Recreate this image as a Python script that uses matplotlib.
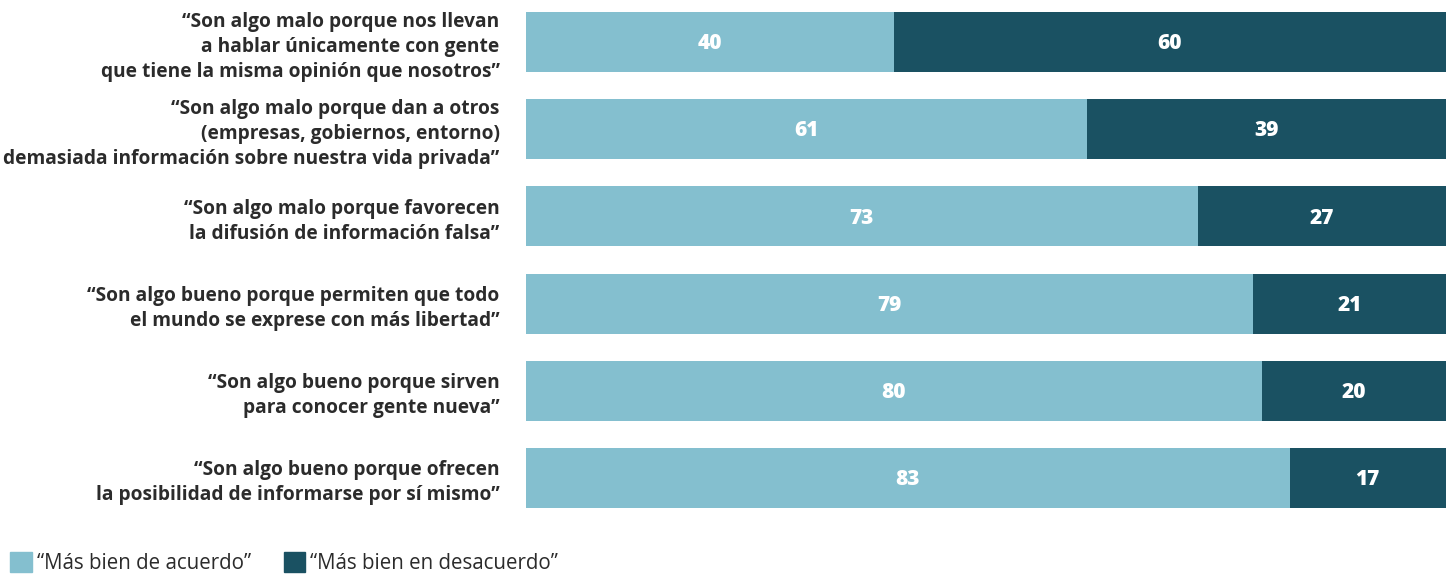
import matplotlib.pyplot as plt
from matplotlib.patches import Patch

labels = [
    "\u201cSon algo malo porque nos llevan\na hablar \u00fanicamente con gente\nque tiene la misma opini\u00f3n que nosotros\u201d",
    "\u201cSon algo malo porque dan a otros\n(empresas, gobiernos, entorno)\ndemasiada informaci\u00f3n sobre nuestra vida privada\u201d",
    "\u201cSon algo malo porque favorecen\nla difusi\u00f3n de informaci\u00f3n falsa\u201d",
    "\u201cSon algo bueno porque permiten que todo\nel mundo se exprese con m\u00e1s libertad\u201d",
    "\u201cSon algo bueno porque sirven\npara conocer gente nueva\u201d",
    "\u201cSon algo bueno porque ofrecen\nla posibilidad de informarse por s\u00ed mismo\u201d",
]
agree = [40, 61, 73, 79, 80, 83]
disagree = [60, 39, 27, 21, 20, 17]
series_names = ["\u201cM\u00e1s bien de acuerdo\u201d", "\u201cM\u00e1s bien en desacuerdo\u201d"]

LIGHT = "#84BFCF"
DARK = "#1A5162"
TEXT = "#2b2b2b"
plt.rcParams['font.family'] = ['Open Sans', 'DejaVu Sans']

fig = plt.figure(figsize=(14.46, 5.75), dpi=100)
ax = fig.add_axes([526 / 1446, 1 - 508 / 575, 920 / 1446, 496 / 575])

pos = list(range(len(labels)))
h = 60 / 87.2
ax.barh(pos, agree, height=h, color=LIGHT)
ax.barh(pos, disagree, left=agree, height=h, color=DARK)

for y, a, d in zip(pos, agree, disagree):
    ax.text(a / 2, y + 0.02, str(a), ha='center', va='center', color='white',
            fontsize=15, fontweight='heavy')
    ax.text(a + d / 2, y + 0.02, str(d), ha='center', va='center', color='white',
            fontsize=15, fontweight='heavy')

ax.set_xlim(0, 100)
ax.set_ylim(len(labels) - 1 + h / 2, -h / 2)
ax.set_yticks(pos)
ax.set_yticklabels(labels, fontsize=13.8, fontweight='bold', color=TEXT,
                   linespacing=1.32, ha='right', multialignment='right')
ax.tick_params(axis='y', length=0, pad=19)
ax.tick_params(axis='x', bottom=False, labelbottom=False)
for s in ax.spines.values():
    s.set_visible(False)

handles = [Patch(color=LIGHT), Patch(color=DARK)]
fig.legend(handles, series_names, loc='lower left', bbox_to_anchor=(10 / 1446, 1 / 575),
           borderpad=0, borderaxespad=0,
           ncol=2, frameon=False, fontsize=14.8, handlelength=1.05, handleheight=1.05,
           handletextpad=0.25, columnspacing=1.6, labelcolor=TEXT)

fig.savefig("out.png", dpi=100)
